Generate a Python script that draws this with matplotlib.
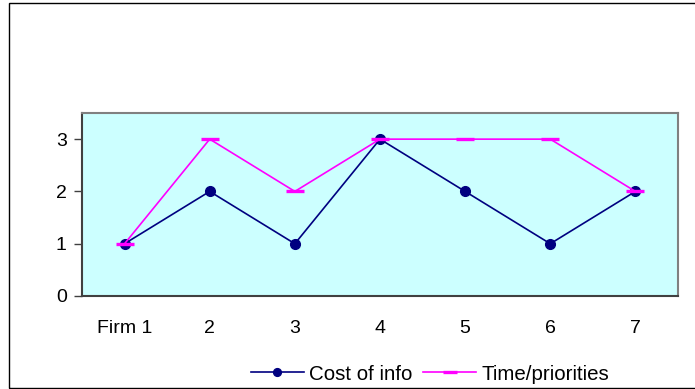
import matplotlib
matplotlib.use("Agg")
import matplotlib.pyplot as plt
from matplotlib.patches import Rectangle

plt.rcParams['font.family'] = ['Liberation Sans', 'DejaVu Sans']

categories = ["Firm 1", "2", "3", "4", "5", "6", "7"]
cost_of_info = [1, 2, 1, 3, 2, 1, 2]
time_priorities = [1, 3, 2, 3, 3, 3, 2]
y_ticks = [0, 1, 2, 3]

W, H = 695, 389
FS = 14
fig = plt.figure(figsize=(W / 100, H / 100), dpi=100)

# outer chart frame (right side runs off the canvas)
fig.add_artist(Rectangle((9 / W, 1 / H), 1.0, (H - 4) / H, transform=fig.transFigure,
                         fill=False, edgecolor="black", linewidth=1.0))

ax = fig.add_axes([82 / W, 1 - 296 / H, (678 - 82) / W, (296 - 113) / H])
ax.set_facecolor("#CCFFFF")

x = list(range(len(categories)))
ax.plot(x, cost_of_info, color="#000080", linewidth=1.2, marker="o",
        markersize=7, label="Cost of info", zorder=3)
ax.plot(x, time_priorities, color="#FF00FF", linewidth=1.2, marker="_",
        markersize=13, markeredgewidth=2.4, label="Time/priorities", zorder=4)

ax.set_xlim(-0.5, len(categories) - 0.5)
ax.set_ylim(0, 3.5)
ax.set_yticks(y_ticks)
ax.set_xticks(x)
ax.set_xticklabels(categories)
ax.tick_params(axis="x", length=0, pad=17, labelsize=FS)
ax.tick_params(axis="y", length=6, width=1, color="#404040", pad=5, labelsize=FS)
for side, sp in ax.spines.items():
    sp.set_color("#808080")
    sp.set_linewidth(1.5)
ax.spines["left"].set_color("#404040")
ax.spines["bottom"].set_color("#404040")

fig.legend(loc="center", bbox_to_anchor=(430 / W, 1 - 374 / H), ncol=2,
           frameon=False, fontsize=14.8, handlelength=2.6, handletextpad=0.25,
           columnspacing=0.5, borderpad=0, markerscale=0.8)

fig.savefig("out.png", dpi=100)
